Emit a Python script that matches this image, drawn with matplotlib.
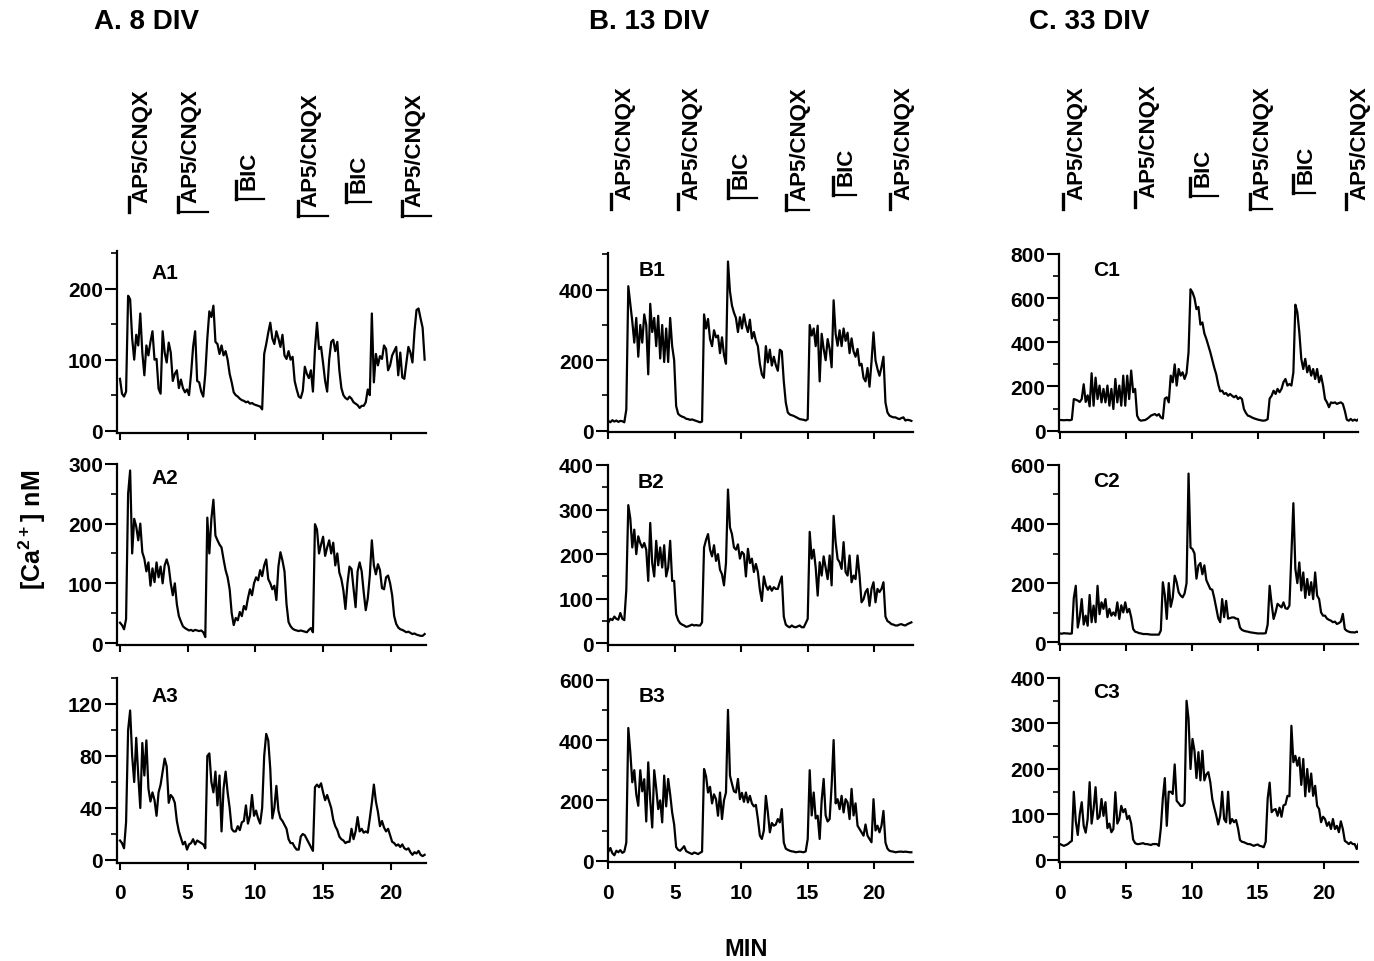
import numpy as np
import matplotlib
matplotlib.use("Agg")
import matplotlib.pyplot as plt
from matplotlib.lines import Line2D
from matplotlib.ticker import MultipleLocator
from matplotlib.transforms import blended_transform_factory, offset_copy

plt.rcParams["font.family"] = ["Liberation Sans", "DejaVu Sans"]
plt.rcParams["font.weight"] = "bold"
plt.rcParams["mathtext.fontset"] = "custom"
plt.rcParams["mathtext.rm"] = "Liberation Sans:bold"
plt.rcParams["mathtext.bf"] = "Liberation Sans:bold"
plt.rcParams["mathtext.default"] = "rm"

W, H = 1374, 962

# ── traces: [Ca2+] (nM), one reading every DT minutes from t = 0 ──
DT = 0.15

A1 = [73, 52, 48, 55, 190, 185, 130, 100, 135, 120,
      165, 110, 78, 120, 106, 125, 140, 100, 101, 59,
      52, 140, 110, 96, 124, 110, 70, 80, 85, 60,
      72, 60, 54, 58, 50, 80, 118, 140, 70, 68,
      55, 48, 80, 130, 168, 160, 176, 125, 122, 108,
      120, 106, 112, 100, 80, 68, 54, 50, 48, 45,
      43, 42, 40, 41, 38, 39, 37, 36, 35, 34,
      30, 108, 122, 138, 152, 130, 122, 140, 130, 118,
      135, 106, 101, 112, 100, 104, 70, 58, 48, 46,
      56, 90, 80, 74, 85, 55, 115, 152, 115, 118,
      95, 70, 55, 100, 125, 128, 112, 125, 85, 60,
      50, 46, 44, 48, 45, 40, 38, 36, 32, 35,
      35, 40, 58, 50, 165, 68, 108, 92, 105, 101,
      120, 115, 85, 92, 106, 112, 118, 78, 110, 75,
      73, 95, 118, 110, 96, 140, 170, 172, 158, 145, 100]

A2 = [34, 30, 23, 40, 250, 289, 150, 208, 195, 172,
      200, 152, 141, 120, 135, 96, 125, 102, 135, 110,
      128, 100, 130, 140, 128, 100, 80, 100, 65, 45,
      36, 28, 25, 23, 21, 22, 20, 22, 21, 20,
      21, 18, 10, 210, 150, 208, 240, 180, 172, 165,
      160, 140, 122, 110, 90, 50, 30, 42, 38, 52,
      45, 62, 56, 75, 90, 80, 100, 110, 105, 122,
      112, 130, 140, 107, 100, 90, 96, 72, 128, 152,
      138, 120, 65, 35, 28, 24, 22, 21, 20, 21,
      20, 19, 18, 22, 25, 18, 199, 190, 150, 165,
      178, 146, 160, 172, 150, 168, 130, 150, 118, 107,
      88, 57, 100, 128, 124, 91, 60, 120, 135, 120,
      85, 55, 75, 113, 172, 130, 115, 132, 122, 92,
      90, 110, 113, 100, 80, 45, 32, 26, 23, 22,
      20, 18, 19, 17, 15, 16, 14, 13, 12, 12, 15]

A3 = [15, 13, 9, 29, 100, 115, 80, 60, 94, 65,
      40, 90, 65, 92, 55, 45, 52, 46, 34, 52,
      58, 68, 78, 72, 44, 50, 48, 44, 30, 22,
      17, 12, 14, 8, 12, 13, 16, 12, 15, 14,
      13, 12, 9, 80, 82, 60, 52, 68, 42, 65,
      22, 55, 68, 52, 40, 24, 22, 22, 26, 23,
      29, 30, 42, 28, 34, 50, 34, 38, 32, 28,
      40, 80, 97, 92, 70, 32, 40, 57, 38, 32,
      30, 27, 24, 16, 13, 13, 10, 8, 8, 18,
      20, 19, 16, 13, 10, 7, 56, 58, 56, 59,
      52, 46, 50, 45, 40, 31, 26, 23, 18, 16,
      15, 13, 14, 14, 24, 16, 22, 33, 22, 24,
      21, 22, 21, 32, 44, 58, 45, 37, 26, 30,
      25, 22, 24, 19, 14, 13, 11, 12, 10, 12,
      9, 8, 9, 6, 4, 6, 5, 7, 4, 3, 4]

B1 = [28, 24, 30, 26, 29, 25, 28, 27, 24, 60,
      410, 360, 310, 250, 320, 210, 300, 250, 330, 300,
      160, 360, 280, 320, 240, 326, 205, 300, 195, 290,
      195, 320, 240, 200, 70, 48, 43, 40, 38, 34,
      33, 31, 32, 30, 28, 26, 24, 26, 330, 290,
      317, 260, 240, 285, 265, 270, 220, 265, 215, 190,
      480, 395, 355, 335, 320, 280, 322, 290, 330, 300,
      280, 315, 262, 280, 255, 240, 190, 160, 150, 240,
      194, 230, 185, 210, 186, 170, 230, 225, 140, 80,
      52, 46, 44, 42, 39, 36, 33, 32, 31, 29,
      33, 300, 270, 290, 240, 298, 140, 275, 232, 200,
      260, 232, 180, 370, 275, 241, 285, 240, 290, 255,
      278, 220, 262, 225, 210, 232, 185, 190, 150, 140,
      178, 125, 195, 279, 200, 175, 156, 180, 210, 80,
      52, 43, 40, 38, 38, 35, 33, 36, 38, 29, 31, 30, 28]

B2 = [47, 55, 52, 60, 55, 53, 68, 55, 52, 120,
      310, 280, 215, 255, 200, 240, 225, 215, 225, 210,
      140, 270, 180, 150, 230, 175, 215, 170, 220, 150,
      170, 230, 140, 140, 65, 52, 45, 42, 40, 37,
      38, 40, 42, 40, 41, 40, 40, 47, 215, 232,
      245, 210, 195, 220, 185, 200, 165, 155, 130, 180,
      345, 260, 245, 215, 210, 222, 190, 205, 200, 150,
      212, 180, 190, 160, 178, 160, 120, 95, 150, 130,
      120, 128, 118, 126, 122, 122, 137, 150, 60, 42,
      38, 36, 40, 37, 36, 38, 40, 36, 36, 45,
      55, 250, 190, 210, 170, 107, 182, 152, 195, 170,
      144, 197, 130, 286, 227, 189, 182, 167, 227, 160,
      152, 197, 137, 152, 144, 197, 152, 92, 99, 115,
      122, 84, 122, 137, 92, 122, 115, 122, 137, 60,
      50, 47, 43, 42, 40, 40, 42, 43, 41, 40, 43, 45, 47]

B3 = [30, 42, 25, 18, 33, 28, 35, 26, 30, 60,
      440, 360, 260, 300, 220, 182, 300, 230, 270, 130,
      326, 200, 110, 300, 240, 171, 200, 127, 282, 180,
      271, 220, 160, 120, 45, 36, 33, 40, 48, 32,
      28, 25, 22, 27, 25, 22, 26, 30, 304, 280,
      226, 245, 190, 220, 204, 149, 226, 138, 200, 226,
      500, 282, 255, 230, 226, 271, 204, 225, 195, 226,
      193, 215, 190, 180, 185, 138, 83, 72, 100, 215,
      160, 94, 125, 116, 120, 138, 127, 171, 60, 40,
      36, 33, 31, 30, 28, 29, 30, 29, 28, 31,
      72, 300, 150, 226, 140, 149, 72, 200, 271, 150,
      130, 138, 249, 400, 190, 204, 171, 215, 160, 204,
      193, 138, 238, 150, 190, 116, 105, 94, 83, 120,
      83, 72, 61, 204, 100, 116, 94, 116, 165, 60,
      40, 33, 31, 30, 28, 29, 30, 30, 29, 30, 29, 28, 28]

C1 = [48, 48, 47, 48, 48, 47, 50, 143, 140, 136,
      130, 143, 210, 130, 160, 110, 260, 113, 240, 143,
      204, 128, 189, 128, 204, 113, 189, 98, 234, 128,
      204, 113, 249, 113, 249, 143, 272, 174, 189, 68,
      50, 45, 47, 48, 53, 60, 68, 72, 75, 68,
      75, 60, 55, 145, 151, 128, 249, 219, 300, 204,
      279, 249, 264, 234, 260, 355, 640, 626, 600, 550,
      560, 480, 490, 440, 415, 385, 355, 320, 285, 255,
      210, 178, 181, 166, 170, 158, 166, 158, 151, 158,
      143, 151, 143, 98, 80, 68, 65, 60, 56, 53,
      50, 48, 46, 45, 47, 52, 145, 158, 181, 166,
      189, 174, 189, 220, 234, 204, 211, 204, 264, 570,
      536, 445, 325, 279, 325, 264, 294, 249, 279, 234,
      279, 219, 249, 204, 143, 128, 106, 128, 125, 128,
      121, 125, 128, 121, 90, 50, 45, 53, 45, 50, 45, 53, 45]

C2 = [30, 29, 31, 30, 30, 29, 30, 150, 191, 50,
      85, 146, 60, 90, 56, 160, 68, 124, 68, 191,
      95, 135, 113, 146, 85, 113, 90, 101, 90, 135,
      79, 125, 101, 135, 101, 113, 85, 45, 36, 34,
      31, 30, 28, 28, 28, 27, 26, 26, 26, 26,
      26, 40, 203, 160, 79, 200, 120, 150, 225, 203,
      169, 158, 152, 165, 200, 570, 320, 315, 300, 215,
      259, 268, 230, 260, 210, 195, 180, 178, 150, 115,
      82, 68, 146, 85, 140, 80, 82, 84, 84, 80,
      79, 50, 42, 39, 37, 36, 34, 33, 32, 31,
      30, 30, 30, 30, 31, 60, 191, 130, 79, 101,
      130, 124, 118, 135, 115, 113, 124, 300, 470, 248,
      200, 270, 175, 236, 150, 214, 160, 203, 146, 236,
      158, 146, 101, 90, 90, 80, 76, 73, 68, 70,
      62, 65, 70, 96, 45, 39, 36, 34, 34, 33, 36, 34, 35]

C3 = [35, 33, 31, 33, 35, 39, 42, 150, 85, 55,
      100, 127, 75, 60, 90, 171, 80, 112, 160, 90,
      95, 134, 97, 127, 70, 80, 61, 68, 149, 80,
      90, 119, 105, 112, 90, 97, 80, 45, 37, 35,
      35, 36, 37, 35, 35, 34, 33, 35, 35, 35,
      31, 70, 135, 180, 75, 150, 150, 145, 210, 130,
      125, 119, 119, 125, 350, 310, 200, 266, 240, 180,
      237, 175, 240, 175, 188, 193, 171, 134, 115, 98,
      78, 97, 150, 90, 83, 150, 80, 90, 83, 88,
      70, 44, 40, 39, 37, 35, 35, 33, 31, 33,
      34, 31, 30, 28, 40, 135, 170, 105, 110, 112,
      97, 115, 95, 120, 122, 141, 140, 295, 215, 229,
      207, 225, 165, 222, 140, 200, 150, 190, 141, 163,
      119, 112, 83, 95, 90, 75, 83, 68, 90, 68,
      75, 61, 85, 68, 42, 39, 35, 39, 35, 35, 24, 37, 35]

# ── drug applications (min) ──
DRUG_NAMES = ["AP5/CNQX", "AP5/CNQX", "BIC", "AP5/CNQX", "BIC", "AP5/CNQX"]
DRUG_TIMES = {
    "A": [0.66, 4.28, 8.56, 13.14, 16.68, 20.8],
    "B": [0.2, 5.24, 9.0, 13.4, 16.9, 21.2],
    "C": [0.23, 5.7, 9.85, 14.4, 17.65, 21.7],
}
COL_TITLES = {"A": "A. 8 DIV", "B": "B. 13 DIV", "C": "C. 33 DIV"}

# ── layout (pixels) ──
COL_X = {  # left px, right px, xlim
    "A": (117.0, 426.0, (-0.22, 22.6)),
    "B": (607.7, 912.7, (-0.05, 22.9)),
    "C": (1059.3, 1358.0, (-0.05, 22.6)),
}
PANELS = [  # name, data, col, row, ylim, major, minor, top px, bottom px
    ("A1", A1, "A", 0, (-3, 253), 100, 50, 252.0, 433.8),
    ("A2", A2, "A", 1, (-3, 300), 100, 50, 464.9, 645.8),
    ("A3", A3, "A", 2, (-2, 140), 40, 20, 679.0, 863.6),
    ("B1", B1, "B", 0, (-3, 505), 200, 100, 253.7, 432.8),
    ("B2", B2, "B", 1, (-4, 400), 100, 50, 466.0, 646.1),
    ("B3", B3, "B", 2, (-5, 600), 200, 100, 680.7, 863.2),
    ("C1", C1, "C", 0, (-7, 800), 200, 100, 254.9, 433.2),
    ("C2", C2, "C", 1, (-6, 600), 200, 100, 465.7, 645.1),
    ("C3", C3, "C", 2, (-4, 400), 100, 50, 679.0, 862.8),
]
TAG_POS = {"A1": (151, 274), "A2": (151, 478), "A3": (151, 697),
           "B1": (639, 270), "B2": (638, 483), "B3": (639, 697),
           "C1": (1093, 270), "C2": (1093, 482), "C3": (1093, 693)}
TITLE_POS = {"A": (94, 22), "B": (589, 22), "C": (1029, 22)}
UNDERLINE = {"A": [0, 2.2, 2.1, 2.2, 1.85, 2.2],
             "B": [0, 0, 2.2, 1.7, 1.7, 0],
             "C": [0, 0, 2.1, 1.7, 1.7, 0]}
BAR_BOTTOM = {"A": [213, 213, 200, 217, 203, 217],
              "B": [210, 210, 199, 211, 196, 210],
              "C": [210, 208, 197, 210, 194, 210]}


def px_box(left, right, top, bottom):
    return [left / W, 1 - bottom / H, (right - left) / W, (bottom - top) / H]


fig = plt.figure(figsize=(W / 100, H / 100), dpi=100)

top_axes = {}
for name, vals, col, row, ylim, major, minor, top, bottom in PANELS:
    left, right, xlim = COL_X[col]
    ax = fig.add_axes(px_box(left, right, top, bottom))
    t = np.arange(len(vals)) * DT
    ax.plot(t, vals, color="black", lw=1.6)
    ax.set_xlim(*xlim)
    ax.set_ylim(*ylim)

    ax.xaxis.set_major_locator(MultipleLocator(5))
    ax.yaxis.set_major_locator(MultipleLocator(major))
    ax.yaxis.set_minor_locator(MultipleLocator(minor))
    ax.tick_params(axis="y", which="major", direction="out", length=9,
                   width=1.5, labelsize=15, pad=1)
    ax.tick_params(axis="y", which="minor", direction="out", length=4.5,
                   width=1.2)
    ax.tick_params(axis="x", which="major", direction="out", length=5,
                   width=1.5, labelsize=15, pad=10, labelbottom=(row == 2))
    for s in ("top", "right"):
        ax.spines[s].set_visible(False)
    for s in ("left", "bottom"):
        ax.spines[s].set_linewidth(1.6)

    tx, ty = TAG_POS[name]
    fig.text(tx / W, 1 - ty / H, name, fontsize=15, ha="left", va="center")
    if row == 0:
        top_axes[col] = ax

# drug application marks above each column
for col in "ABC":
    ax = top_axes[col]
    trans = blended_transform_factory(ax.transData, fig.transFigure)
    ttxt = offset_copy(trans, fig=fig, x=3, y=0, units="dots")
    for drug, t0, ul, yb in zip(DRUG_NAMES, DRUG_TIMES[col],
                                UNDERLINE[col], BAR_BOTTOM[col]):
        h = 18 if drug == "BIC" else 15
        y0 = 1 - yb / H
        fig.add_artist(Line2D([t0, t0], [y0, 1 - (yb - h) / H],
                              transform=trans, color="black", lw=2.4))
        if ul:
            fig.add_artist(Line2D([t0, t0 + ul], [y0, y0], transform=trans,
                                  color="black", lw=1.6))
        fig.text(t0, 1 - (yb - 10) / H, drug, transform=ttxt, rotation=90,
                 ha="left", va="bottom", fontsize=16)

    x, y = TITLE_POS[col]
    fig.text(x / W, 1 - y / H, COL_TITLES[col], fontsize=20,
             ha="left", va="center")

fig.text(32 / W, 1 - 530 / H, r"[Ca$^{2+}$] nM", rotation=90,
         fontsize=18, ha="center", va="center")
fig.text(746 / W, 1 - 950 / H, "MIN", fontsize=17, ha="center", va="center")

fig.savefig("out.png", dpi=100)
